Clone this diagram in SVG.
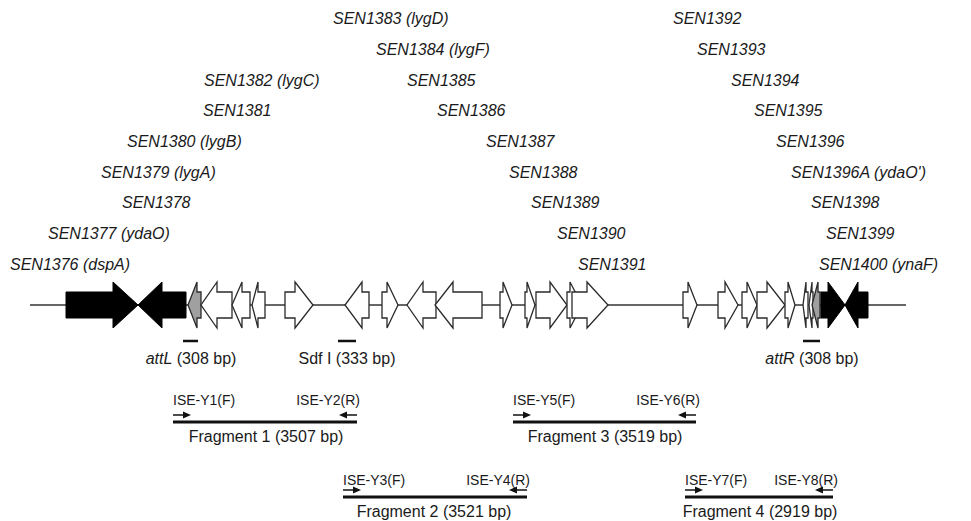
<svg xmlns="http://www.w3.org/2000/svg" width="971" height="521" viewBox="0 0 971 521">
<style>
.lbl{font-family:"Liberation Sans",Arial,sans-serif;font-size:16px;font-style:italic;fill:#1a1a1a}
.txt{font-family:"Liberation Sans",Arial,sans-serif;font-size:16px;fill:#1a1a1a}
.pr{font-family:"Liberation Sans",Arial,sans-serif;font-size:14px;fill:#1a1a1a}
.w{fill:#fff;stroke:#2a2a2a;stroke-width:1.3;stroke-linejoin:miter}
.b{fill:#000;stroke:#000;stroke-width:1}
.g{fill:#a0a0a0;stroke:#2a2a2a;stroke-width:1.3}
.line{stroke:#333;stroke-width:1.3;fill:none}
.frag{stroke:#111;stroke-width:3;fill:none}
.bar{stroke:#111;stroke-width:2.5}
.parr{stroke:#111;stroke-width:1.5;fill:none}
</style>
<rect width="971" height="521" fill="#fff"/>
<g id="connectors">
<line class="line" x1="30" y1="305" x2="906" y2="305"/>
</g>
<g id="labels">
<text class="lbl" x="10" y="270">SEN1376 (dspA)</text>
<text class="lbl" x="48" y="239">SEN1377 (ydaO)</text>
<text class="lbl" x="122" y="208">SEN1378</text>
<text class="lbl" x="101" y="178">SEN1379 (lygA)</text>
<text class="lbl" x="127" y="147">SEN1380 (lygB)</text>
<text class="lbl" x="203" y="116">SEN1381</text>
<text class="lbl" x="204" y="86">SEN1382 (lygC)</text>
<text class="lbl" x="333" y="24">SEN1383 (lygD)</text>
<text class="lbl" x="376" y="55">SEN1384 (lygF)</text>
<text class="lbl" x="407" y="86">SEN1385</text>
<text class="lbl" x="437" y="116">SEN1386</text>
<text class="lbl" x="486" y="147">SEN1387</text>
<text class="lbl" x="509" y="178">SEN1388</text>
<text class="lbl" x="531" y="208">SEN1389</text>
<text class="lbl" x="557" y="239">SEN1390</text>
<text class="lbl" x="578" y="270">SEN1391</text>
<text class="lbl" x="673" y="24">SEN1392</text>
<text class="lbl" x="697" y="55">SEN1393</text>
<text class="lbl" x="731" y="86">SEN1394</text>
<text class="lbl" x="754" y="116">SEN1395</text>
<text class="lbl" x="776" y="147">SEN1396</text>
<text class="lbl" x="791" y="178">SEN1396A (ydaO')</text>
<text class="lbl" x="811" y="208">SEN1398</text>
<text class="lbl" x="826" y="239">SEN1399</text>
<text class="lbl" x="819" y="270">SEN1400 (ynaF)</text>
</g>
<g id="genes">
<path id="g1376" class="b" d="M66,292H113V282L138,305L113,328V318H66Z"/>
<path id="g1377" class="b" d="M186,292H162V282L138,305L162,328V318H186Z"/>
<path id="g1378" class="g" d="M201,292H197V282L188,305L197,328V318H201Z"/>
<path id="g1379" class="w" d="M232,292H217V282L201,305L217,328V318H232Z"/>
<path id="g1380" class="w" d="M250,292H242V282L232,305L242,328V318H250Z"/>
<path id="g1381" class="w" d="M265,292H258V282L252,305L258,328V318H265Z"/>
<path id="g1382" class="w" d="M285,292H295V282L313,305L295,328V318H285Z"/>
<path id="g1383" class="w" d="M369,292H362V282L345,305L362,328V318H369Z"/>
<path id="g1384" class="w" d="M382,292H387V282L398,305L387,328V318H382Z"/>
<path id="g1385" class="w" d="M436,292H423V282L407,305L423,328V318H436Z"/>
<path id="g1386" class="w" d="M482,292H453V282L435,305L453,328V318H482Z"/>
<path id="g1387" class="w" d="M500,292H503V282L512,305L503,328V318H500Z"/>
<path id="g1388" class="w" d="M525,292H527V282L535,305L527,328V318H525Z"/>
<path id="g1389" class="w" d="M536,292H550V282L567,305L550,328V318H536Z"/>
<path id="g1390" class="w" d="M567,292H570V282L582,305L570,328V318H567Z"/>
<path id="g1391" class="w" d="M572,292H587V282L608,305L587,328V318H572Z"/>
<path id="g1392" class="w" d="M683,292H688V282L697,305L688,328V318H683Z"/>
<path id="g1393" class="w" d="M718,292H725V282L738,305L725,328V318H718Z"/>
<path id="g1394" class="w" d="M742,292H747V282L757,305L747,328V318H742Z"/>
<path id="g1395" class="w" d="M757,292H767V282L785,305L767,328V318H757Z"/>
<path id="g1396" class="w" d="M785,292H788V282L795,305L788,328V318H785Z"/>
<path id="g1396A" class="w" d="M808,292H806V282L803,305L806,328V318H808Z"/>
<path id="g1398" class="w" d="M813,292H812V282L809,305L812,328V318H813Z"/>
<path id="g1399" class="g" d="M820,292H818V282L812,305L818,328V318H820Z"/>
<path id="g1400a" class="b" d="M821,292H828V282L845,305L828,328V318H821Z"/>
<path id="g1400" class="b" d="M868,292H858V282L845,305L858,328V318H868Z"/>
</g>
<g id="sites">
<line class="bar" x1="183" y1="341" x2="198" y2="341"/>
<text class="txt" x="191" y="364" text-anchor="middle"><tspan font-style="italic">attL</tspan> (308 bp)</text>
<line class="bar" x1="338" y1="341" x2="356" y2="341"/>
<text class="txt" x="347" y="364" text-anchor="middle">Sdf I (333 bp)</text>
<line class="bar" x1="803" y1="341" x2="820" y2="341"/>
<text class="txt" x="812" y="364" text-anchor="middle"><tspan font-style="italic">attR</tspan> (308 bp)</text>
</g>
<g id="frag1">
<text class="pr" x="173" y="405">ISE-Y1(F)</text>
<text class="pr" x="360" y="405" text-anchor="end">ISE-Y2(R)</text>
<path class="parr" d="M173,415H188"/><path d="M191,415L183,411.5V418.5Z" fill="#111"/>
<path class="parr" d="M357,415H342"/><path d="M339,415L347,411.5V418.5Z" fill="#111"/>
<line class="frag" x1="173" y1="422" x2="357" y2="422"/>
<text class="txt" x="266" y="442" text-anchor="middle">Fragment 1 (3507 bp)</text>
</g>
<g id="frag2">
<text class="pr" x="343" y="485">ISE-Y3(F)</text>
<text class="pr" x="530" y="485" text-anchor="end">ISE-Y4(R)</text>
<path class="parr" d="M343,490H358"/><path d="M361,490L353,486.5V493.5Z" fill="#111"/>
<path class="parr" d="M527,490H512"/><path d="M509,490L517,486.5V493.5Z" fill="#111"/>
<line class="frag" x1="343" y1="497" x2="527" y2="497"/>
<text class="txt" x="434" y="517" text-anchor="middle">Fragment 2 (3521 bp)</text>
</g>
<g id="frag3">
<text class="pr" x="513" y="405">ISE-Y5(F)</text>
<text class="pr" x="700" y="405" text-anchor="end">ISE-Y6(R)</text>
<path class="parr" d="M513,415H528"/><path d="M531,415L523,411.5V418.5Z" fill="#111"/>
<path class="parr" d="M696,415H681"/><path d="M678,415L686,411.5V418.5Z" fill="#111"/>
<line class="frag" x1="513" y1="422" x2="696" y2="422"/>
<text class="txt" x="605" y="442" text-anchor="middle">Fragment 3 (3519 bp)</text>
</g>
<g id="frag4">
<text class="pr" x="685" y="485">ISE-Y7(F)</text>
<text class="pr" x="838" y="485" text-anchor="end">ISE-Y8(R)</text>
<path class="parr" d="M685,490H700"/><path d="M703,490L695,486.5V493.5Z" fill="#111"/>
<path class="parr" d="M833,490H818"/><path d="M815,490L823,486.5V493.5Z" fill="#111"/>
<line class="frag" x1="685" y1="497" x2="833" y2="497"/>
<text class="txt" x="760" y="517" text-anchor="middle">Fragment 4 (2919 bp)</text>
</g>
</svg>
